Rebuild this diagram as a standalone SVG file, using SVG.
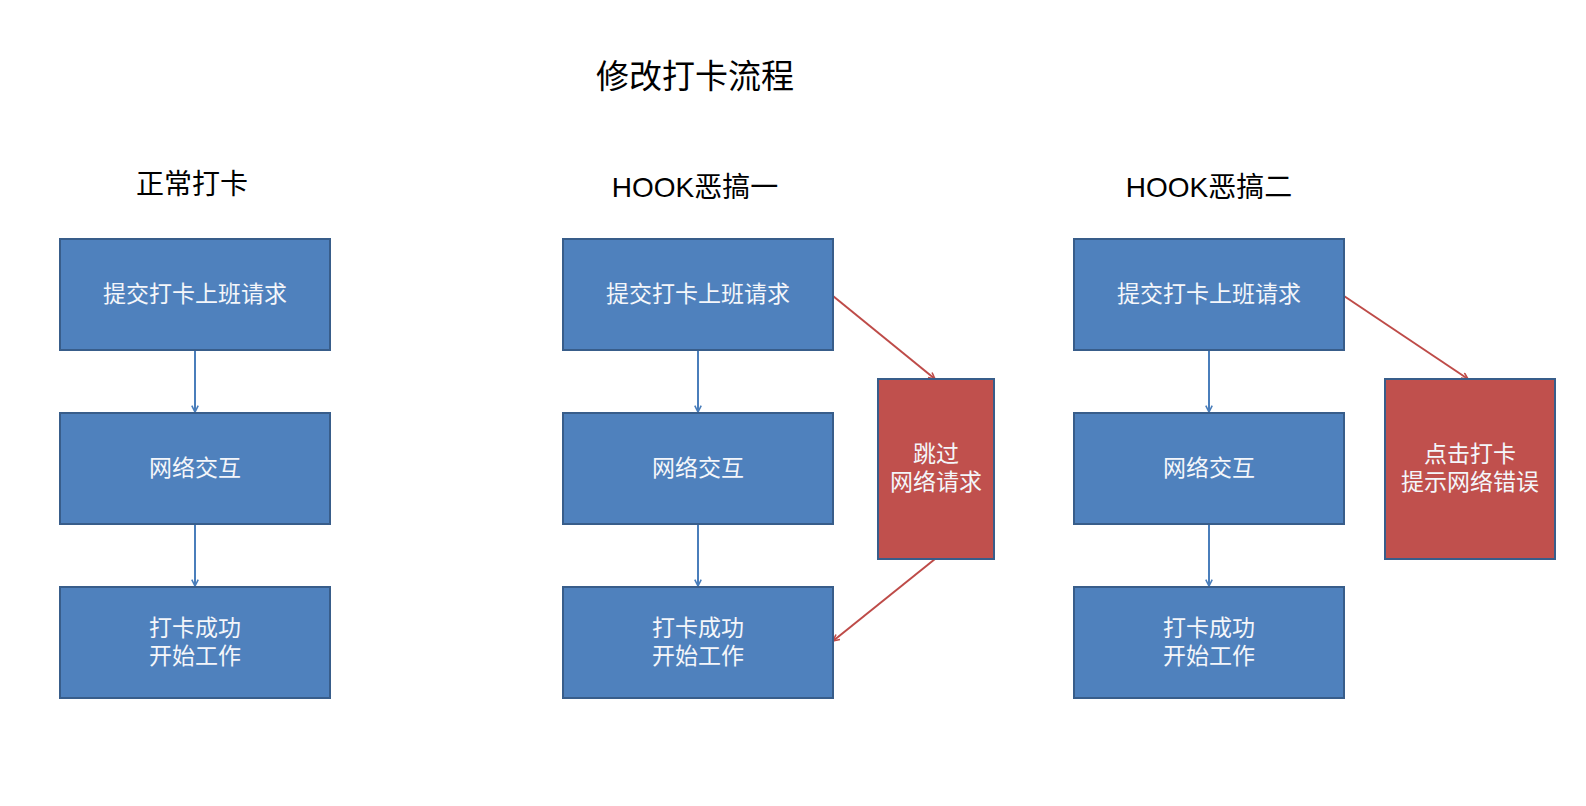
<svg xmlns="http://www.w3.org/2000/svg" width="1586" height="806" viewBox="0 0 1586 806">
<style>
.box{fill:#4F81BD;stroke:#385D8A;stroke-width:2}
.red{fill:#C0504D;stroke:#385D8A;stroke-width:2}
.bt{font-family:"Noto Sans CJK SC",sans-serif;font-size:23px;fill:#F4F6FA;text-anchor:middle}
.ti{font-family:"Liberation Sans","Noto Sans CJK SC",sans-serif;font-size:28px;fill:#000;text-anchor:middle}
.bl{stroke:#4A7EBB;stroke-width:2;fill:none;marker-end:url(#ab)}
.rl{stroke:#BE4B48;stroke-width:2;fill:none;marker-end:url(#ar)}
</style>
<defs>
<marker id="ab" viewBox="0 0 10 10" refX="9" refY="5" markerWidth="4" markerHeight="4" orient="auto" markerUnits="strokeWidth"><path d="M1,1 L9,5 L1,9" fill="none" stroke="#4A7EBB" stroke-width="2"/></marker>
<marker id="ar" viewBox="0 0 10 10" refX="9" refY="5" markerWidth="4" markerHeight="4" orient="auto" markerUnits="strokeWidth"><path d="M1,1 L9,5 L1,9" fill="none" stroke="#BE4B48" stroke-width="2"/></marker>
</defs>
<rect width="1586" height="806" fill="#fff"/>
<g id="titles">
<text class="ti" x="695" y="88" style="font-size:33px">修改打卡流程</text>
<text class="ti" x="192" y="194">正常打卡</text>
<text class="ti" x="695" y="197">HOOK恶搞一</text>
<text class="ti" x="1209" y="197">HOOK恶搞二</text>
</g>
<g id="connectors">
<line class="bl" x1="195" y1="350" x2="195" y2="412"/>
<line class="bl" x1="195" y1="524" x2="195" y2="586"/>
<line class="bl" x1="698" y1="350" x2="698" y2="412"/>
<line class="bl" x1="698" y1="524" x2="698" y2="586"/>
<line class="bl" x1="1209" y1="350" x2="1209" y2="412"/>
<line class="bl" x1="1209" y1="524" x2="1209" y2="586"/>
<line class="rl" x1="833" y1="296" x2="935" y2="379"/>
<line class="rl" x1="935" y1="559" x2="833" y2="641"/>
<line class="rl" x1="1344" y1="296" x2="1468" y2="379"/>
</g>
<g id="n1a"><rect class="box" x="60" y="239" width="270" height="111"/><text class="bt" x="195" y="302">提交打卡上班请求</text></g>
<g id="n1b"><rect class="box" x="60" y="413" width="270" height="111"/><text class="bt" x="195" y="476">网络交互</text></g>
<g id="n1c"><rect class="box" x="60" y="587" width="270" height="111"/><text class="bt" x="195" y="636">打卡成功</text><text class="bt" x="195" y="664">开始工作</text></g>
<g id="n2a"><rect class="box" x="563" y="239" width="270" height="111"/><text class="bt" x="698" y="302">提交打卡上班请求</text></g>
<g id="n2b"><rect class="box" x="563" y="413" width="270" height="111"/><text class="bt" x="698" y="476">网络交互</text></g>
<g id="n2c"><rect class="box" x="563" y="587" width="270" height="111"/><text class="bt" x="698" y="636">打卡成功</text><text class="bt" x="698" y="664">开始工作</text></g>
<g id="n2r"><rect class="red" x="878" y="379" width="116" height="180"/><text class="bt" x="936" y="462">跳过</text><text class="bt" x="936" y="490">网络请求</text></g>
<g id="n3a"><rect class="box" x="1074" y="239" width="270" height="111"/><text class="bt" x="1209" y="302">提交打卡上班请求</text></g>
<g id="n3b"><rect class="box" x="1074" y="413" width="270" height="111"/><text class="bt" x="1209" y="476">网络交互</text></g>
<g id="n3c"><rect class="box" x="1074" y="587" width="270" height="111"/><text class="bt" x="1209" y="636">打卡成功</text><text class="bt" x="1209" y="664">开始工作</text></g>
<g id="n3r"><rect class="red" x="1385" y="379" width="170" height="180"/><text class="bt" x="1470" y="462">点击打卡</text><text class="bt" x="1470" y="490">提示网络错误</text></g>
</svg>
